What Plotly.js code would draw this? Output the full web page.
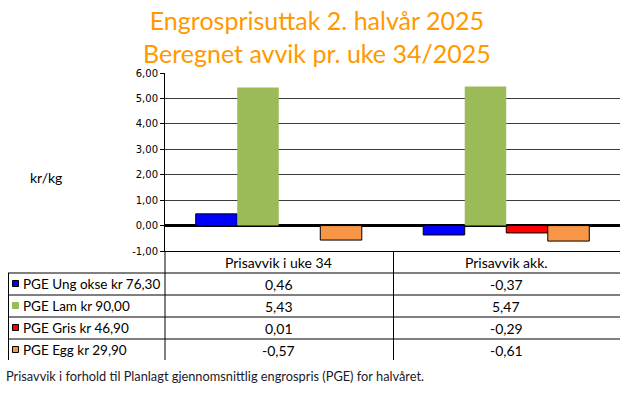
<!DOCTYPE html>
<html>
<head>
<meta charset="utf-8">
<script src="https://cdn.plot.ly/plotly-3.0.1.min.js"></script>
<style>
  html, body { margin: 0; padding: 0; background: #fff; }
  #chart { width: 630px; height: 393px; }
</style>
</head>
<body>
<div id="chart"></div>
<script>
// ---- Data ----
const categories = ["Prisavvik i uke 34", "Prisavvik akk."];
const seriesNames = ["PGE Ung okse kr 76,30", "PGE Lam kr 90,00", "PGE Gris kr 46,90", "PGE Egg kr 29,90"];
const ungOkse = [0.46, -0.37];
const lam = [5.43, 5.47];
const gris = [0.01, -0.29];
const egg = [-0.57, -0.61];
const tickVals = [-1, 0, 1, 2, 3, 4, 5, 6];
const tickLabels = ["-1,00", "0,00", "1,00", "2,00", "3,00", "4,00", "5,00", "6,00"];
const titleText = "Engrosprisuttak 2. halvår 2025<br>Beregnet avvik pr. uke 34/2025";
const unitLabel = "kr/kg";
const footnote = "Prisavvik i forhold til Planlagt gjennomsnittlig engrospris (PGE) for halvåret.";

// ---- Styles ----
const seriesValues = [ungOkse, lam, gris, egg];
const colors = ["#0000FF", "#9BBB59", "#FF0000", "#F79646"];
const outlines = [1, 0, 1, 1];
const textFont = "Lato, 'Open Sans', sans-serif";

// geometry helpers (pixel -> paper)
const W = 630, H = 393;
const mL = 165, mR = 10, mT = 73, mB = 142;
const pw = W - mL - mR, ph = H - mT - mB;
const px2x = px => (px - mL) / pw;
const px2y = py => (H - mB - py) / ph;

const fmt = v => v.toFixed(2).replace('.', ',');

const traces = seriesNames.map((name, i) => ({
  type: 'bar',
  name: name,
  x: categories,
  y: seriesValues[i],
  marker: { color: colors[i], line: { color: '#000', width: outlines[i] } },
  hoverinfo: 'x+y+name'
}));

const annotations = [];
const shapes = [];

// title
annotations.push({ xref: 'paper', yref: 'paper', x: px2x(317), y: px2y(36),
  text: titleText, showarrow: false, xanchor: 'center', yanchor: 'middle', align: 'center',
  font: { family: textFont, size: 25, color: '#FF9900' } });

// unit label
annotations.push({ xref: 'paper', yref: 'paper', x: px2x(46), y: px2y(177),
  text: unitLabel, showarrow: false, xanchor: 'center', yanchor: 'middle',
  font: { family: textFont, size: 14, color: '#000' } });

// header row
const headerY = 262;
categories.forEach(c => annotations.push({ xref: 'x', yref: 'paper', x: c, y: px2y(headerY),
  text: c, showarrow: false, xanchor: 'center', yanchor: 'middle',
  font: { family: textFont, size: 14, color: '#000' } }));

// data rows
const rowTop = 273, rowH = 22;
seriesNames.forEach((name, i) => {
  const cy = rowTop + rowH * i + rowH / 2;
  annotations.push({ xref: 'paper', yref: 'paper', x: px2x(21), y: px2y(cy),
    text: name, showarrow: false, xanchor: 'left', yanchor: 'middle',
    font: { family: textFont, size: 13.5, color: '#000' } });
  shapes.push({ type: 'rect', xref: 'paper', yref: 'paper',
    x0: px2x(12.5), x1: px2x(18.5), y0: px2y(cy - 3.5), y1: px2y(cy + 2.5),
    fillcolor: colors[i], line: { color: outlines[i] ? '#000' : colors[i], width: 1 } });
  categories.forEach((c, j) => annotations.push({ xref: 'x', yref: 'paper', x: c, y: px2y(cy),
    text: fmt(seriesValues[i][j]), showarrow: false, xanchor: 'center', yanchor: 'middle',
    font: { family: textFont, size: 14, color: '#000' } }));
});

// footnote
annotations.push({ xref: 'paper', yref: 'paper', x: px2x(4), y: px2y(376),
  text: footnote, showarrow: false, xanchor: 'left', yanchor: 'middle',
  font: { family: textFont, size: 12.8, color: '#1a1a2a' } });

// table lines
const line = (x0, y0, x1, y1) => shapes.push({ type: 'line', xref: 'paper', yref: 'paper',
  x0: px2x(x0), y0: px2y(y0), x1: px2x(x1), y1: px2y(y1), line: { color: '#000', width: 1 } });
for (let i = 0; i < 4; i++) line(8, rowTop + rowH * i, 620, rowTop + rowH * i);
line(165, 251, 165, 360);
line(393.5, 251, 393.5, 360);
line(8.5, rowTop, 8.5, 360);

const layout = {
  width: W, height: H,
  margin: { l: mL, r: mR, t: mT, b: mB, pad: 0 },
  paper_bgcolor: '#fff', plot_bgcolor: '#fff',
  showlegend: false,
  barmode: 'group', bargap: 0.27, bargroupgap: 0,
  xaxis: { showticklabels: false, ticks: '', showgrid: false, showline: true, linecolor: '#000', linewidth: 1, fixedrange: true },
  yaxis: { range: [-1, 6], tickvals: tickVals, ticktext: tickLabels, ticks: 'outside', ticklen: 4, tickcolor: '#000',
    tickfont: { family: 'DejaVu Sans, Verdana, sans-serif', size: 10, color: '#000' },
    showgrid: true, gridcolor: '#3c3c3c', gridwidth: 1,
    zeroline: true, zerolinecolor: '#000', zerolinewidth: 2.5,
    showline: true, linecolor: '#000', linewidth: 1, fixedrange: true },
  annotations: annotations,
  shapes: shapes
};

Plotly.newPlot('chart', traces, layout, { displayModeBar: false, staticPlot: true });
</script>
</body>
</html>
